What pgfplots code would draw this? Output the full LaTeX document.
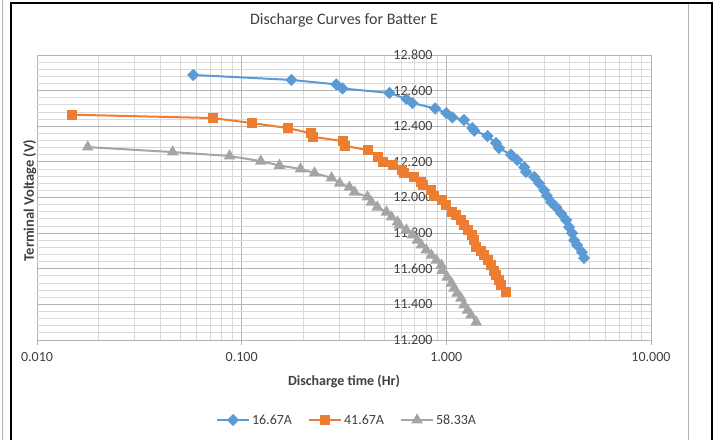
\documentclass[border=0pt]{standalone}
\usepackage{fontspec}
\setmainfont{Carlito}
\usepackage{pgfplots}
\pgfplotsset{compat=1.18}

\definecolor{sblue}{HTML}{5B9BD5}
\definecolor{sorange}{HTML}{ED7D31}
\definecolor{sgray}{HTML}{A5A5A5}
\definecolor{txt}{HTML}{404040}
\definecolor{gmaj}{HTML}{B4B4B4}
\definecolor{gmin}{HTML}{D9D9D9}

\begin{document}
\begin{tikzpicture}[x=1pt,y=1pt]
\path[use as bounding box, fill=white] (0,0) rectangle (715,440);
% window frame
\draw[gray!60, line width=1pt] (2,0) -- (2,440);
\draw[gray!60, line width=1pt] (688,0) -- (688,437);
\draw[black, line width=2pt] (11,0) -- (11,437) -- (712,437) -- (712,0);

\begin{axis}[
    at={(37pt,100pt)}, anchor=south west,
    scale only axis,
    width=614pt, height=285pt,
    xmode=log,
    xmin=0.01, xmax=10,
    ymin=11.2, ymax=12.8,
    xtick={0.01,0.1,1,10},
    xticklabels={0.010,0.100,1.000,10.000},
    ytick={11.2,11.4,11.6,11.8,12.0,12.2,12.4,12.6,12.8},
    minor y tick num=4,
    grid=both,
    major grid style={gmaj, line width=0.8pt},
    minor grid style={gmin, line width=0.8pt},
    axis line style={draw=none},
    xtick pos=bottom, ytick pos=left,
    xtick align=outside,
    major tick length=5pt,
    minor tick length=0pt,
    ytick style={draw=none},
    xtick style={gmaj, line width=0.8pt},
    tick label style={font=\fontsize{14}{16}\selectfont, text=txt},
    /pgf/number format/assume math mode=true,
    yticklabel style={/pgf/number format/.cd, fixed, fixed zerofill, precision=3, /tikz/.cd, anchor=east, xshift=399pt},
    xticklabel style={yshift=-4pt},
    title={Discharge Curves for Batter E},
    title style={at={(axis description cs:0.5,1.102)}, anchor=center, font=\fontsize{16}{18}\selectfont, text=txt},
    xlabel={Discharge time (Hr)},
    xlabel style={at={(axis description cs:0.5,-0.147)}, anchor=center, font=\bfseries\fontsize{14}{16}\selectfont, text=txt},
    ylabel={Terminal Voltage (V)},
    ylabel style={at={(axis description cs:-0.012,0.49)}, anchor=center, font=\bfseries\fontsize{14.5}{16}\selectfont, text=txt},
    legend columns=3,
    legend style={at={(axis description cs:0.505,-0.281)}, anchor=center, draw=none, fill=none,
        font=\fontsize{14}{16}\selectfont, text=txt,
        /tikz/every even column/.append style={column sep=14pt}},
    legend image code/.code={
        \draw[mark repeat=2, mark phase=2] plot coordinates {(0pt,0pt) (16pt,0pt) (32pt,0pt)};
    },
    every axis plot/.append style={line width=2pt},
]

\addplot[color=sblue, mark=square*, mark size=3.3pt, mark options={solid, rotate=45}] coordinates {
(0.058,12.688) (0.175,12.66) (0.29,12.635) (0.311,12.612) (0.527,12.587)
(0.638,12.553) (0.683,12.53) (0.883,12.50) (1.0,12.474) (1.07,12.45)
(1.22,12.435) (1.34,12.39) (1.37,12.375) (1.59,12.345) (1.75,12.306)
(1.81,12.278) (2.07,12.24) (2.22,12.21) (2.40,12.17) (2.45,12.143)
(2.69,12.115) (2.84,12.08) (3.01,12.04) (3.10,12.01) (3.25,11.974)
(3.44,11.946) (3.64,11.91) (3.85,11.873) (3.98,11.834) (4.12,11.80)
(4.21,11.76) (4.35,11.733) (4.60,11.693) (4.71,11.66)
};
\addlegendentry{16.67A}

\addplot[color=sorange, mark=square*, mark size=4pt, mark options={solid}] coordinates {
(0.0148,12.465) (0.0723,12.446) (0.112,12.418) (0.168,12.39) (0.219,12.36)
(0.224,12.34) (0.311,12.317) (0.32,12.29) (0.412,12.266) (0.466,12.227)
(0.49,12.20) (0.546,12.18) (0.61,12.154) (0.62,12.137) (0.698,12.115)
(0.755,12.087) (0.765,12.07) (0.845,12.04) (0.87,12.01) (0.955,11.985)
(1.0,11.957) (1.06,11.918) (1.12,11.90) (1.18,11.873) (1.22,11.845)
(1.27,11.817) (1.34,11.79) (1.36,11.76) (1.40,11.72) (1.48,11.70)
(1.53,11.676) (1.59,11.648) (1.66,11.62) (1.71,11.59) (1.75,11.564)
(1.81,11.536) (1.85,11.508) (1.96,11.469)
};
\addlegendentry{41.67A}

\addplot[color=sgray, mark=triangle*, mark size=4.8pt, mark options={solid}] coordinates {
(0.0177,12.283) (0.046,12.255) (0.0873,12.233) (0.124,12.204) (0.153,12.18)
(0.194,12.16) (0.227,12.137) (0.275,12.11) (0.301,12.08) (0.336,12.058)
(0.356,12.03) (0.412,12.003) (0.431,11.974) (0.46,11.946) (0.51,11.918)
(0.54,11.89) (0.577,11.862) (0.59,11.845) (0.638,11.817) (0.683,11.79)
(0.722,11.76) (0.755,11.733) (0.798,11.705) (0.845,11.676) (0.894,11.648)
(0.946,11.62) (0.955,11.59) (1.01,11.553) (1.06,11.519) (1.09,11.49)
(1.13,11.463) (1.18,11.435) (1.22,11.396) (1.27,11.367) (1.32,11.34)
(1.40,11.30)
};
\addlegendentry{58.33A}

\end{axis}
\end{tikzpicture}
\end{document}
